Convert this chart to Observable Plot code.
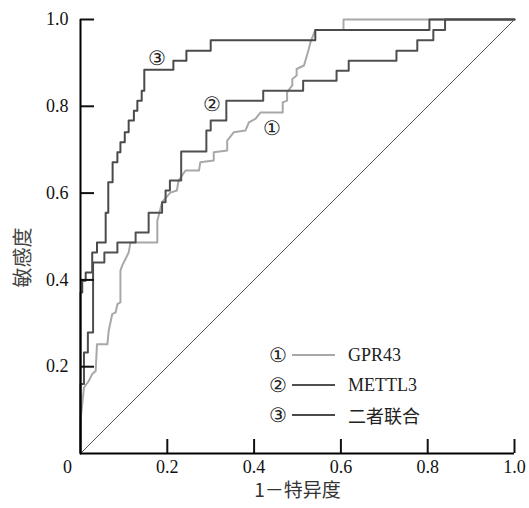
<!DOCTYPE html>
<html><head><meta charset="utf-8">
<script src="https://cdn.jsdelivr.net/npm/d3@7"></script>
<script src="https://cdn.jsdelivr.net/npm/@observablehq/plot@0.6"></script>
<style>
body{margin:0;background:#fff;}
#wrap{position:relative;width:529px;height:508px;}
#legend{position:absolute;left:269px;top:340px;font-family:"Liberation Serif","Noto Sans CJK SC",serif;font-size:18px;color:#222;}
.row{height:30px;display:flex;align-items:center;}
.num{width:23px;font-size:20px;text-align:left;font-family:"DejaVu Serif","Liberation Serif",serif;}
.ln{width:43px;height:0;border-top:2px solid;margin-right:13px;}
</style></head><body><div id="wrap"><div id="legend"></div></div>
<script>
// ROC data (FPR = 1 - specificity, TPR = sensitivity)
const seriesNames = ["GPR43", "METTL3", "二者联合"];
const seriesMarks = ["①", "②", "③"];

const gprFpr = [0,0,0.004,0.008,0.019,0.027,0.035,0.038,0.062,0.065,0.073,0.081,0.085,0.092,0.092,0.096,0.111,0.115,0.177,0.177,0.188,0.207,0.222,0.226,0.242,0.273,0.276,0.307,0.307,0.338,0.338,0.353,0.380,0.388,0.403,0.415,0.466,0.466,0.476,0.476,0.488,0.488,0.498,0.498,0.515,0.526,0.530,0.541,0.606,0.606,1];
const gprTpr = [0,0.075,0.114,0.152,0.167,0.183,0.190,0.252,0.252,0.283,0.321,0.325,0.344,0.348,0.421,0.433,0.463,0.486,0.486,0.536,0.579,0.601,0.606,0.629,0.652,0.652,0.671,0.675,0.694,0.698,0.721,0.740,0.744,0.763,0.771,0.786,0.786,0.809,0.813,0.832,0.848,0.863,0.871,0.886,0.894,0.932,0.948,0.976,0.976,1,1];

const mettlFpr = [0,0,0.008,0.017,0.029,0.055,0.085,0.127,0.157,0.188,0.196,0.206,0.232,0.290,0.300,0.336,0.421,0.513,0.590,0.618,0.728,0.776,0.813,0.840,1];
const mettlTpr = [0,0.160,0.233,0.279,0.440,0.463,0.486,0.509,0.555,0.579,0.606,0.629,0.696,0.744,0.767,0.813,0.836,0.859,0.882,0.905,0.928,0.952,0.976,1,1];

const combFpr = [0,0,0.004,0.012,0.027,0.038,0.058,0.064,0.074,0.085,0.092,0.102,0.111,0.123,0.131,0.141,0.147,0.214,0.244,0.300,0.541,0.804,1];
const combTpr = [0,0.371,0.398,0.417,0.463,0.486,0.555,0.625,0.671,0.694,0.717,0.740,0.767,0.790,0.813,0.836,0.884,0.905,0.928,0.952,0.976,1,1];

const refLine = [0, 1];
const xTicks = [0.2, 0.4, 0.6, 0.8, 1.0];
const yTicks = [0.2, 0.4, 0.6, 0.8, 1.0];
const originTick = [0];
const xLabel = "1－特异度";
const yLabel = "敏感度";

const colors = ["#a8a8a8", "#4f4f4f", "#4a4a4a"];
const toPts = (xs, ys) => xs.map((x, i) => ({x, y: ys[i]}));
const gpr = toPts(gprFpr, gprTpr);
const mettl = toPts(mettlFpr, mettlTpr);
const comb = toPts(combFpr, combTpr);
const diag = toPts(refLine, refLine);

const serif = "Liberation Serif";
const circ = "DejaVu Serif";
const cjk = "Noto Sans CJK SC";

const chart = Plot.plot({
  width: 529, height: 508,
  marginLeft: 80, marginRight: 15, marginTop: 19, marginBottom: 55,
  x: {domain: [0, 1]},
  y: {domain: [0, 1]},
  style: {fontFamily: serif, fontSize: "18px", color: "#111", background: "white"},
  marks: [
    Plot.line(diag, {x: "x", y: "y", stroke: "#444", strokeWidth: 0.9}),
    Plot.line(gpr, {x: "x", y: "y", stroke: colors[0], strokeWidth: 2}),
    Plot.line(mettl, {x: "x", y: "y", stroke: colors[1], strokeWidth: 2, curve: "step-after"}),
    Plot.line(comb, {x: "x", y: "y", stroke: colors[2], strokeWidth: 2, curve: "step-after"}),
    Plot.text([gpr[35]], {x: "x", y: "y", text: () => seriesMarks[0], dx: 11, dy: 16, fontSize: 20, fontFamily: circ, fill: "#222"}),
    Plot.text([mettl[15]], {x: "x", y: "y", text: () => seriesMarks[1], dx: -14, dy: 4, fontSize: 20, fontFamily: circ, fill: "#222"}),
    Plot.text([comb[16]], {x: "x", y: "y", text: () => seriesMarks[2], dx: 13, dy: -11, fontSize: 20, fontFamily: circ, fill: "#222"}),
    Plot.axisX({ticks: xTicks, tickSize: -14, tickPadding: 21, tickFormat: d3.format(".1f"), strokeWidth: 2, fontFamily: serif, fontSize: 18, label: null}),
    Plot.axisX({ticks: originTick, tickSize: 0, tickPadding: 7, tickFormat: d => "0", dx: -13, fontFamily: serif, fontSize: 18, label: null}),
    Plot.axisY({ticks: yTicks, tickSize: -14, tickPadding: 26, tickFormat: d3.format(".1f"), strokeWidth: 2, fontFamily: serif, fontSize: 18, label: null}),
    Plot.ruleX([0], {stroke: "#000", strokeWidth: 2}),
    Plot.ruleY([0], {stroke: "#000", strokeWidth: 2}),
    Plot.text([xLabel], {frameAnchor: "bottom", dy: 43, fontSize: 19, fontFamily: cjk, fill: "#333"}),
    Plot.text([yLabel], {frameAnchor: "left", dx: -57, dy: 51, rotate: -90, fontSize: 20, fontFamily: cjk, fill: "#444"})
  ]
});
document.getElementById("wrap").prepend(chart);

const lg = document.getElementById("legend");
seriesNames.forEach((name, i) => {
  const row = document.createElement("div");
  row.className = "row";
  row.innerHTML = `<span class="num">${seriesMarks[i]}</span><span class="ln" style="border-color:${colors[i]}"></span><span>${name}</span>`;
  lg.appendChild(row);
});
</script>
</body></html>
